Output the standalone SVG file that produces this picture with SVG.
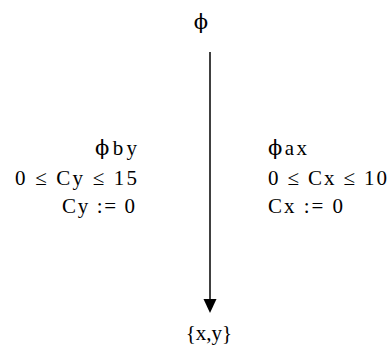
<svg xmlns="http://www.w3.org/2000/svg" width="391" height="356" viewBox="0 0 391 356">
<defs>
<style>
text{font-family:"Liberation Serif","DejaVu Serif",serif;font-size:21px;fill:#000}
.l{text-anchor:end}
.c{text-anchor:middle}
.p{font-family:"DejaVu Serif",serif}
</style>
</defs>
<rect width="391" height="356" fill="#fff"/>
<g id="src"><text class="c p" x="201" y="29">ϕ</text></g>
<g id="dst"><text class="c" x="209" y="340" font-size="22">{x,y}</text></g>
<g id="edges">
<line x1="210" y1="52" x2="210" y2="300" stroke="#000" stroke-width="1.5"/>
<path d="M203.5,299 L216.5,299 L210,313 Z" fill="#000"/>
<g id="lblL">
<text class="l" x="137" y="155" textLength="42" lengthAdjust="spacing"><tspan class="p">ϕ</tspan>by</text>
<text class="l" x="137" y="185" textLength="122" lengthAdjust="spacing">0 ≤ Cy ≤ 15</text>
<text class="l" x="135" y="213" textLength="73" lengthAdjust="spacing">Cy := 0</text>
</g>
<g id="lblR">
<text x="268" y="155" textLength="39" lengthAdjust="spacing"><tspan class="p">ϕ</tspan>ax</text>
<text x="268" y="185" textLength="119" lengthAdjust="spacing">0 ≤ Cx ≤ 10</text>
<text x="268" y="213" textLength="75" lengthAdjust="spacing">Cx := 0</text>
</g>
</g>
</svg>
